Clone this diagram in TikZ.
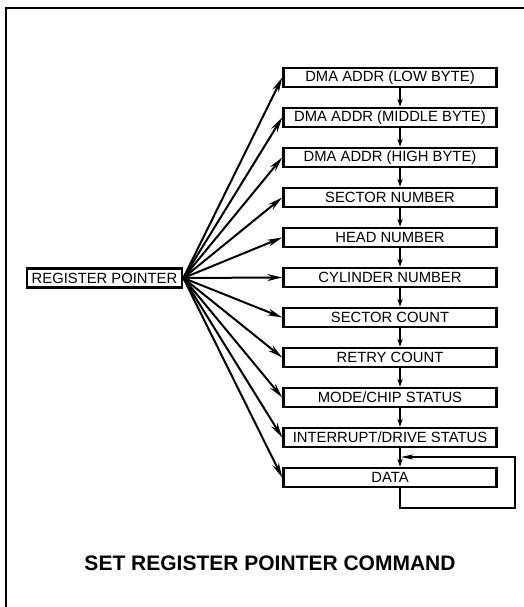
\documentclass[tikz,border=0pt]{standalone}
\usepackage{fontspec}
\setmainfont{Liberation Sans}
\usetikzlibrary{arrows.meta,positioning,calc}

\begin{document}
\begin{tikzpicture}[x=1pt, y=1pt,
  reg/.style={draw, line width=2.6pt, minimum width=213pt, minimum height=19pt, inner sep=0pt, font=\fontsize{14.8}{18}\selectfont},
  fan/.style={line width=2pt, -{Stealth[length=15pt, width=7pt, inset=5pt]}},
  down/.style={line width=1.8pt, -{Stealth[length=8pt, width=5.5pt]}}]
  \useasboundingbox (0,0) rectangle (524,607);
  \draw[line width=1.6pt] (6,0) -- (6,599);
  \draw[line width=2.6pt] (5,599) -- (524,599);

  \node[reg, minimum width=155pt] (rp) at (104.5,329) {REGISTER POINTER};

  \node[reg] (r0) at (390,529.5) {DMA ADDR (LOW BYTE)};
  \node[reg] (r1) at (390,489.5) {DMA ADDR (MIDDLE BYTE)};
  \node[reg] (r2) at (390,449.5) {DMA ADDR (HIGH BYTE)};
  \node[reg] (r3) at (390,409.5) {SECTOR NUMBER};
  \node[reg] (r4) at (390,369.5) {HEAD NUMBER};
  \node[reg] (r5) at (390,329.5) {CYLINDER NUMBER};
  \node[reg] (r6) at (390,289.5) {SECTOR COUNT};
  \node[reg] (r7) at (390,249.5) {RETRY COUNT};
  \node[reg] (r8) at (390,209.5) {MODE/CHIP STATUS};
  \node[reg] (r9) at (390,169.5) {INTERRUPT/DRIVE STATUS};
  \node[reg] (r10) at (390,129.5) {DATA};

  \draw[fan] (rp.east) -- (r0.west);
  \draw[fan] (rp.east) -- (r1.west);
  \draw[fan] (rp.east) -- (r2.west);
  \draw[fan] (rp.east) -- (r3.west);
  \draw[fan] (rp.east) -- (r4.west);
  \draw[fan] (rp.east) -- (r5.west);
  \draw[fan] (rp.east) -- (r6.west);
  \draw[fan] (rp.east) -- (r7.west);
  \draw[fan] (rp.east) -- (r8.west);
  \draw[fan] (rp.east) -- (r9.west);
  \draw[fan] (rp.east) -- (r10.west);

  % register chain
  \coordinate (col) at (400,0);
  \draw[down] (r0.south -| col) -- (r1.north -| col);
  \draw[down] (r1.south -| col) -- (r2.north -| col);
  \draw[down] (r2.south -| col) -- (r3.north -| col);
  \draw[down] (r3.south -| col) -- (r4.north -| col);
  \draw[down] (r4.south -| col) -- (r5.north -| col);
  \draw[down] (r5.south -| col) -- (r6.north -| col);
  \draw[down] (r6.south -| col) -- (r7.north -| col);
  \draw[down] (r7.south -| col) -- (r8.north -| col);
  \draw[down] (r8.south -| col) -- (r9.north -| col);
  \draw[down] (r9.south -| col) -- (r10.north -| col);

  % data loops back
  \coordinate (loopbot) at (515,99);
  \coordinate (loopin) at (401,150);
  \draw[down, -{Stealth[length=12pt, width=5pt, inset=3pt]}] (r10.south -| col) |- (loopbot) |- (loopin);

  \node[font=\fontsize{21}{24}\selectfont\bfseries] (title) at (270,44) {SET REGISTER POINTER COMMAND};
\end{tikzpicture}
\end{document}
